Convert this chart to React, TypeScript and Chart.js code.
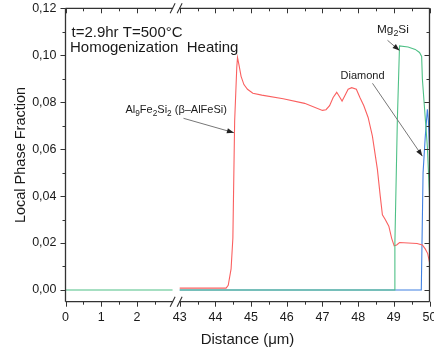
import React, { useEffect, useRef } from 'react';
import { Chart, registerables } from 'chart.js';
Chart.register(...registerables);

// ---- data (real distances in µm) ----
const leftGreenX = [0, 3];
const leftGreenY = [0, 0];

const redX = [43, 44.3, 44.36, 44.44, 44.49, 44.54, 44.6, 44.62, 44.66, 44.72, 44.8, 44.9, 45.05, 45.3, 45.9, 46.5, 47.0, 47.1, 47.2, 47.3, 47.4, 47.47, 47.55, 47.62, 47.72, 47.82, 47.95, 48.05, 48.16, 48.28, 48.4, 48.54, 48.62, 48.68, 48.76, 48.86, 48.94, 49.01, 49.08, 49.16, 49.4, 49.65, 49.8, 49.88, 49.95, 50.0];
const redY = [0.0008, 0.0008, 0.002, 0.009, 0.022, 0.072, 0.095, 0.099, 0.096, 0.091, 0.0875, 0.0855, 0.0838, 0.083, 0.0815, 0.0795, 0.0765, 0.0768, 0.0785, 0.082, 0.0842, 0.0825, 0.0805, 0.0825, 0.0855, 0.0862, 0.0855, 0.082, 0.0785, 0.0735, 0.0655, 0.0514, 0.04, 0.032, 0.03, 0.0272, 0.022, 0.0188, 0.0192, 0.0202, 0.02, 0.0198, 0.0192, 0.0175, 0.0155, 0.0118];

const greenX = [43, 49.02, 49.03, 49.1, 49.16, 49.4, 49.6, 49.72, 49.78, 49.8, 49.94, 50];
const greenY = [0, 0, 0.02, 0.073, 0.104, 0.1035, 0.1025, 0.1012, 0.0995, 0.09, 0.061, 0.04];

const blueX = [43, 49.77, 49.79, 49.82, 49.88, 49.94, 49.97, 50];
const blueY = [0, 0, 0.02, 0.05, 0.065, 0.077, 0.072, 0.06];

const xLeftTicks = [0, 1, 2];
const xRightTicks = [43, 44, 45, 46, 47, 48, 49, 50];
const yTicks = [0, 0.02, 0.04, 0.06, 0.08, 0.1, 0.12];

const FONT = 'Arial, "Liberation Sans", Helvetica, sans-serif';
const RED = 'rgb(250,96,96)';
const GREEN = 'rgb(78,192,134)';
const BLUE = 'rgb(64,128,226)';
const AXIS = '#333';

// broken axis: left segment 0..3, right segment 43..50 placed after a gap
const RIGHT_START = 3.2;
const BREAK_AT = 3.1;
const toAxis = (x: number) => (x >= 40 ? x - 43 + RIGHT_START : x);
const fromAxis = (v: number) => (v >= RIGHT_START - 0.01 ? v + 43 - RIGHT_START : v);

const pts = (xs: number[], ys: number[]) => xs.map((x, i) => ({ x: toAxis(x), y: ys[i] }));

function drawRich(ctx: CanvasRenderingContext2D, parts: [string, boolean][], x: number, y: number, size: number) {
  let cx = x;
  for (const [t, sub] of parts) {
    ctx.font = `${sub ? size * 0.75 : size}px ${FONT}`;
    ctx.fillText(t, cx, sub ? y + size * 0.3 : y);
    cx += ctx.measureText(t).width;
  }
}

function arrow(ctx: CanvasRenderingContext2D, x1: number, y1: number, x2: number, y2: number) {
  ctx.save();
  ctx.strokeStyle = '#777';
  ctx.lineWidth = 1;
  ctx.beginPath();
  ctx.moveTo(x1, y1);
  ctx.lineTo(x2, y2);
  ctx.stroke();
  const a = Math.atan2(y2 - y1, x2 - x1);
  const L = 7, W = 2.6;
  ctx.fillStyle = '#222';
  ctx.beginPath();
  ctx.moveTo(x2, y2);
  ctx.lineTo(x2 - L * Math.cos(a) + W * Math.sin(a), y2 - L * Math.sin(a) - W * Math.cos(a));
  ctx.lineTo(x2 - L * Math.cos(a) - W * Math.sin(a), y2 - L * Math.sin(a) + W * Math.cos(a));
  ctx.closePath();
  ctx.fill();
  ctx.restore();
}

const framePlugin = {
  id: 'frame',
  afterDraw(chart: any) {
    const { ctx, chartArea: ca, scales } = chart;
    const xs = scales.x, ys = scales.y;
    const L = ca.left, R = ca.right, T = ca.top, B = ca.bottom;
    const bx = xs.getPixelForValue(BREAK_AT);
    ctx.save();
    ctx.strokeStyle = AXIS;
    ctx.lineWidth = 1.3;
    ctx.beginPath();
    ctx.moveTo(L, T); ctx.lineTo(L, B);
    ctx.moveTo(R, T); ctx.lineTo(R, B);
    ctx.moveTo(L, B); ctx.lineTo(bx - 3, B);
    ctx.moveTo(bx + 3, B); ctx.lineTo(R, B);
    ctx.moveTo(L, T); ctx.lineTo(bx - 3, T);
    ctx.moveTo(bx + 3, T); ctx.lineTo(R, T);
    ctx.stroke();
    // break marks
    ctx.lineWidth = 1.1;
    for (const yy of [B, T]) {
      ctx.beginPath();
      ctx.moveTo(bx - 6, yy + 5); ctx.lineTo(bx - 1, yy - 5);
      ctx.moveTo(bx + 1, yy + 5); ctx.lineTo(bx + 6, yy - 5);
      ctx.stroke();
    }
    // x ticks
    ctx.lineWidth = 1;
    const xVals: [number, boolean][] = [];
    xLeftTicks.forEach((v) => { xVals.push([v, true]); xVals.push([v + 0.5, false]); });
    xRightTicks.forEach((v, i) => { xVals.push([v, true]); if (i < xRightTicks.length - 1) xVals.push([v + 0.5, false]); });
    ctx.beginPath();
    for (const [v, major] of xVals) {
      const px = Math.round(xs.getPixelForValue(toAxis(v))) + 0.5;
      const len = major ? 5 : 3;
      ctx.moveTo(px, B); ctx.lineTo(px, B + len);
      ctx.moveTo(px, T); ctx.lineTo(px, T + len);
    }
    // y ticks
    for (let k = 0; k <= 12; k++) {
      const v = k * 0.01;
      const py = Math.round(ys.getPixelForValue(v)) + 0.5;
      const len = k % 2 === 0 ? 5 : 3;
      ctx.moveTo(L, py); ctx.lineTo(L - len, py);
      ctx.moveTo(R, py); ctx.lineTo(R - len, py);
    }
    ctx.stroke();

    // annotations
    ctx.fillStyle = '#1a1a1a';
    ctx.textBaseline = 'middle';
    ctx.textAlign = 'left';
    ctx.font = `15px ${FONT}`;
    ctx.fillText('t=2.9hr T=500\u00B0C', L + 6, T + 25);
    ctx.fillText('Homogenization  Heating', L + 4.5, T + 40);
    drawRich(ctx, [['Al', false], ['9', true], ['Fe', false], ['2', true], ['Si', false], ['2', true], [' (\u03B2\u2013AlFeSi)', false]], L + 60, T + 102, 11);
    drawRich(ctx, [['Mg', false], ['2', true], ['Si', false]], L + 311.5, T + 21.5, 11.8);
    ctx.font = `11px ${FONT}`;
    ctx.fillText('Diamond', L + 275, T + 68);

    const px = (x: number) => xs.getPixelForValue(toAxis(x));
    const py = (y: number) => ys.getPixelForValue(y);
    arrow(ctx, L + 118, T + 110, px(44.52), py(0.067));
    arrow(ctx, L + 322, T + 32, px(49.16), py(0.102));
    arrow(ctx, L + 307, T + 75, px(49.8), py(0.057));
    ctx.restore();
  },
};

export default function App() {
  const ref = useRef<HTMLCanvasElement | null>(null);
  useEffect(() => {
    if (!ref.current) return;
    const greenData = [...pts(leftGreenX, leftGreenY), { x: BREAK_AT, y: null as any }, ...pts(greenX, greenY)];
    const chart = new Chart(ref.current, {
      type: 'line',
      data: {
        datasets: [
          { label: 'Mg2Si', data: greenData, borderColor: GREEN, borderWidth: 1.1, pointRadius: 0, tension: 0, order: 0 },
          { label: 'Al9Fe2Si2', data: pts(redX, redY), borderColor: RED, borderWidth: 1.1, pointRadius: 0, tension: 0, order: 1 },
          { label: 'Diamond', data: pts(blueX, blueY), borderColor: BLUE, borderWidth: 1.1, pointRadius: 0, tension: 0, order: 2 },
        ],
      },
      options: {
        responsive: false,
        animation: false,
        devicePixelRatio: 1,
        layout: { padding: { top: 8.3, right: 4.5, left: 0, bottom: 0 } },
        plugins: { legend: { display: false }, tooltip: { enabled: false } },
        scales: {
          x: {
            type: 'linear',
            min: 0,
            max: toAxis(50),
            grid: { display: false, drawTicks: false },
            border: { display: false },
            afterBuildTicks: (s: any) => {
              s.ticks = [...xLeftTicks, ...xRightTicks].map((v) => ({ value: toAxis(v) }));
            },
            afterFit: (s: any) => { s.height = 56.3; s.paddingLeft = 0; s.paddingRight = 0; },
            ticks: {
              autoSkip: false,
              maxRotation: 0,
              padding: 8,
              color: '#1a1a1a',
              font: { size: 12.5, family: FONT },
              callback: (v: any) => String(Math.round(fromAxis(Number(v)))),
            },
            title: { display: true, text: 'Distance (\u03BCm)', color: '#1a1a1a', font: { size: 15, family: FONT }, padding: { top: 0, bottom: 9.2 } },
          },
          y: {
            type: 'linear',
            min: -0.005,
            max: 0.12,
            grid: { display: false, drawTicks: false },
            border: { display: false },
            afterBuildTicks: (s: any) => { s.ticks = yTicks.map((v) => ({ value: v })); },
            afterFit: (s: any) => { s.width = 65.5; s.paddingTop = 0; s.paddingBottom = 0; },
            ticks: {
              padding: 9,
              color: '#1a1a1a',
              font: { size: 12.5, family: FONT },
              callback: (v: any) => Number(v).toFixed(2).replace('.', ','),
            },
            title: { display: true, text: 'Local Phase Fraction', color: '#1a1a1a', font: { size: 14.5, family: FONT }, padding: { top: 12.3, bottom: 0 } },
          },
        },
      },
      plugins: [framePlugin],
    } as any);
    return () => chart.destroy();
  }, []);
  return (
    <div style={{ position: 'absolute', left: 0, top: 0, width: 434, height: 358, background: '#fff' }}>
      <canvas ref={ref} width={434} height={358} style={{ display: 'block' }} />
    </div>
  );
}
